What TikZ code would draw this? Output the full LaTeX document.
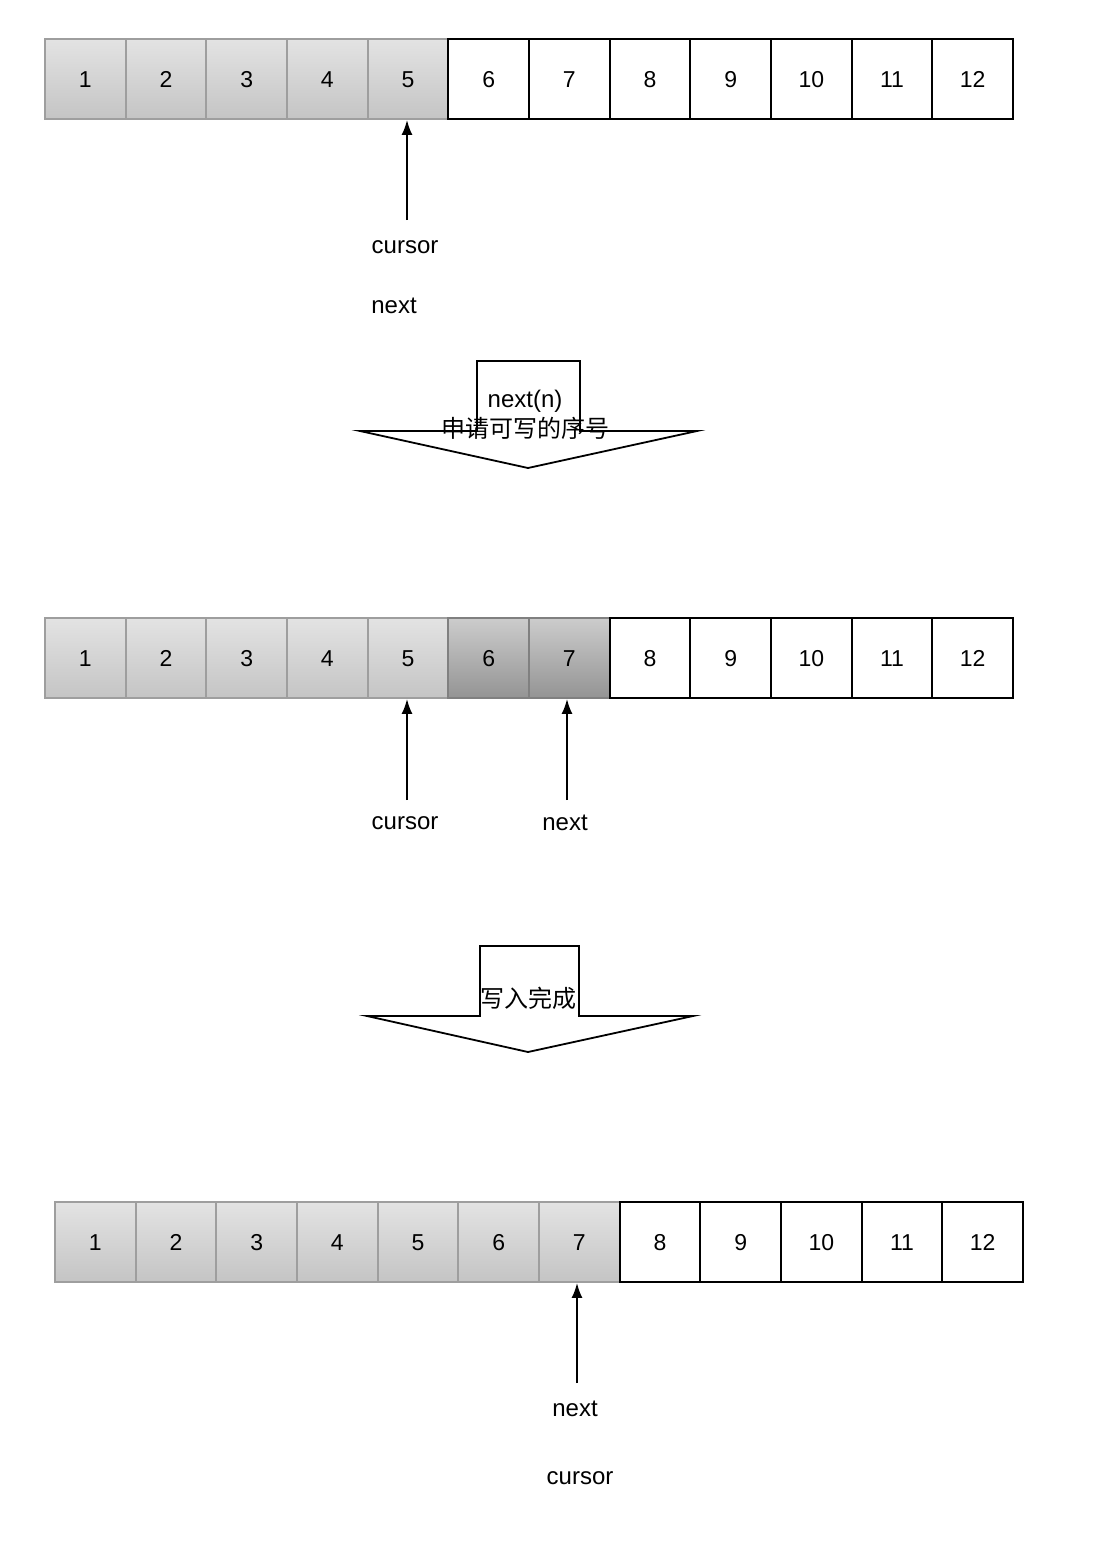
\documentclass[tikz,border=0pt]{standalone}
\usepackage{fontspec}
\setmainfont{Liberation Sans}
\newfontfamily\cjk{Noto Sans CJK SC}
\usetikzlibrary{arrows.meta}

\tikzset{
  cell/.style={draw, line width=1.8pt, minimum width=80.67pt, minimum height=80pt,
    inner sep=0pt, text height=16.5pt, text depth=0pt, font=\fontsize{23}{27}\selectfont},
  donecell/.style={cell, draw=black!38, top color=black!11, bottom color=black!23},
  busycell/.style={cell, draw=black!50, top color=black!20, bottom color=black!42},
  freecell/.style={cell, draw=black, fill=white},
  pointer/.style={line width=2pt, -{Latex[length=15pt,width=11pt]}},
  tag/.style={font=\fontsize{24}{28}\selectfont, inner sep=1pt},
  bigarrow/.style={draw, fill=white, line width=1.8pt, line join=miter}
}

\begin{document}
\begin{tikzpicture}[x=1pt,y=-1pt]

\useasboundingbox
(0,0)
rectangle
(1108,1550);

% first row
\foreach \i in {1,...,5}
  \node[donecell] (a\i) at ({45+(\i-0.5)*80.67},79) {\i};
\foreach \i in {6,...,12}
  \node[freecell] (a\i) at ({45+(\i-0.5)*80.67},79) {\i};

\coordinate
(a0)
at (407,220);

\draw[pointer]
(a0)
--
(a0 |- a5.south);

\node[tag]
(acur)
at (405,247)
{cursor};

\node[tag]
(anext)
at (394,306)
{next};

% first big arrow
\draw[bigarrow]
(477,431) -- (477,361) -- (580,361) -- (580,431)
-- (697,431) -- (528,468) -- (360,431) -- cycle;

\node[tag]
(askn)
at (525,401)
{next(n)};

\node[tag]
(askw)
at (525,428)
{\cjk 申请可写的序号};

% second row
\foreach \i in {1,...,5}
  \node[donecell] (b\i) at ({45+(\i-0.5)*80.67},658) {\i};
\foreach \i in {6,7}
  \node[busycell] (b\i) at ({45+(\i-0.5)*80.67},658) {\i};
\foreach \i in {8,...,12}
  \node[freecell] (b\i) at ({45+(\i-0.5)*80.67},658) {\i};

\coordinate
(b0)
at (407,800);

\draw[pointer]
(b0)
--
(b0 |- b5.south);

\coordinate
(b00)
at (567,800);

\draw[pointer]
(b00)
--
(b00 |- b7.south);

\node[tag]
(bcur)
at (405,823)
{cursor};

\node[tag]
(bnext)
at (565,823)
{next};

% second big arrow
\draw[bigarrow]
(480,1016) -- (480,946) -- (579,946) -- (579,1016)
-- (693,1016) -- (528,1052) -- (367,1016) -- cycle;

\node[tag]
(done)
at (528,998)
{\cjk 写入完成};

% third row
\foreach \i in {1,...,7}
  \node[donecell] (c\i) at ({55+(\i-0.5)*80.67},1242) {\i};
\foreach \i in {8,...,12}
  \node[freecell] (c\i) at ({55+(\i-0.5)*80.67},1242) {\i};

\coordinate
(c0)
at (577,1383);

\draw[pointer]
(c0)
--
(c0 |- c7.south);

\node[tag]
(cnext)
at (575,1409)
{next};

\node[tag]
(ccur)
at (580,1478)
{cursor};

\end{tikzpicture}
\end{document}
